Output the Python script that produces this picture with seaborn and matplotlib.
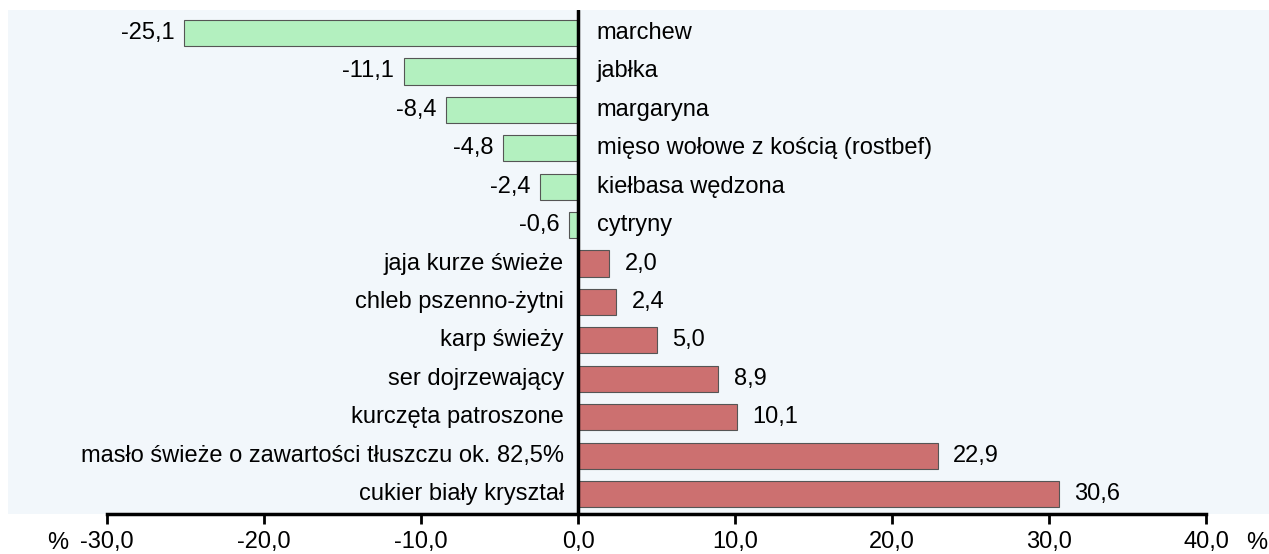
import pandas as pd
import matplotlib.pyplot as plt
import seaborn as sns
from matplotlib.ticker import FuncFormatter

# data, top to bottom as in the chart
products = [
    "marchew", "jabłka", "margaryna", "mięso wołowe z kością (rostbef)",
    "kiełbasa wędzona", "cytryny", "jaja kurze świeże", "chleb pszenno-żytni",
    "karp świeży", "ser dojrzewający", "kurczęta patroszone",
    "masło świeże o zawartości tłuszczu ok. 82,5%", "cukier biały kryształ",
]
changes = [-25.1, -11.1, -8.4, -4.8, -2.4, -0.6, 2.0, 2.4, 5.0, 8.9, 10.1, 22.9, 30.6]
x_ticks = [-30, -20, -10, 0, 10, 20, 30, 40]

df = pd.DataFrame({"product": products, "change": changes})
df["sign"] = ["neg" if v < 0 else "pos" for v in df["change"]]

sns.set_theme(style="white")
plt.rcParams["font.family"] = ["Liberation Sans", "DejaVu Sans"]
plt.rcParams["text.color"] = "black"
plt.rcParams["xtick.color"] = "black"

fig = plt.figure(figsize=(12.69, 5.54), dpi=100)
ax = fig.add_axes([8 / 1269, 1 - 514 / 554, 1 - 8 / 1269, 504 / 554])
ax.set_facecolor("#f2f7fb")

sns.barplot(data=df, x="change", y="product", hue="sign", order=products,
            palette={"neg": "#b3f0bf", "pos": "#cc7070"}, dodge=False, saturation=1,
            width=0.68, edgecolor="#555555", linewidth=0.8, legend=False, ax=ax)

fs = 17
for i, (name, val) in enumerate(zip(products, changes)):
    txt = f"{val:.1f}".replace(".", ",")
    if val < 0:
        ax.text(1.2, i, name, ha="left", va="center", fontsize=fs)
        ax.text(val - 0.6, i, txt, ha="right", va="center", fontsize=fs)
    else:
        ax.text(-0.9, i, name, ha="right", va="center", fontsize=fs)
        ax.text(val + 1.0, i, txt, ha="left", va="center", fontsize=fs)

ax.axvline(0, color="black", lw=2.5, zorder=5)

ax.set_xlim(-36.3, 44.0)
ax.set_ylim(12.52, -0.6)
ax.set_xticks(x_ticks)
ax.xaxis.set_major_formatter(FuncFormatter(lambda v, p: f"{v:.1f}".replace(".", ",")))
ax.tick_params(axis="x", direction="out", length=7, width=2, color="black",
               labelcolor="black", labelsize=fs, pad=5, bottom=True)
ax.set_yticks([])
ax.set_xlabel("")
ax.set_ylabel("")
for s in ["top", "right", "left"]:
    ax.spines[s].set_visible(False)
ax.spines["bottom"].set_bounds(-30, 40)
ax.spines["bottom"].set_linewidth(2.5)
ax.spines["bottom"].set_color("black")

fig.text(47 / 1269, 1 - 543 / 554, "%", ha="left", va="center", fontsize=fs)
fig.text(1246 / 1269, 1 - 543 / 554, "%", ha="left", va="center", fontsize=fs)

fig.savefig("out.png", dpi=100, facecolor="white")
